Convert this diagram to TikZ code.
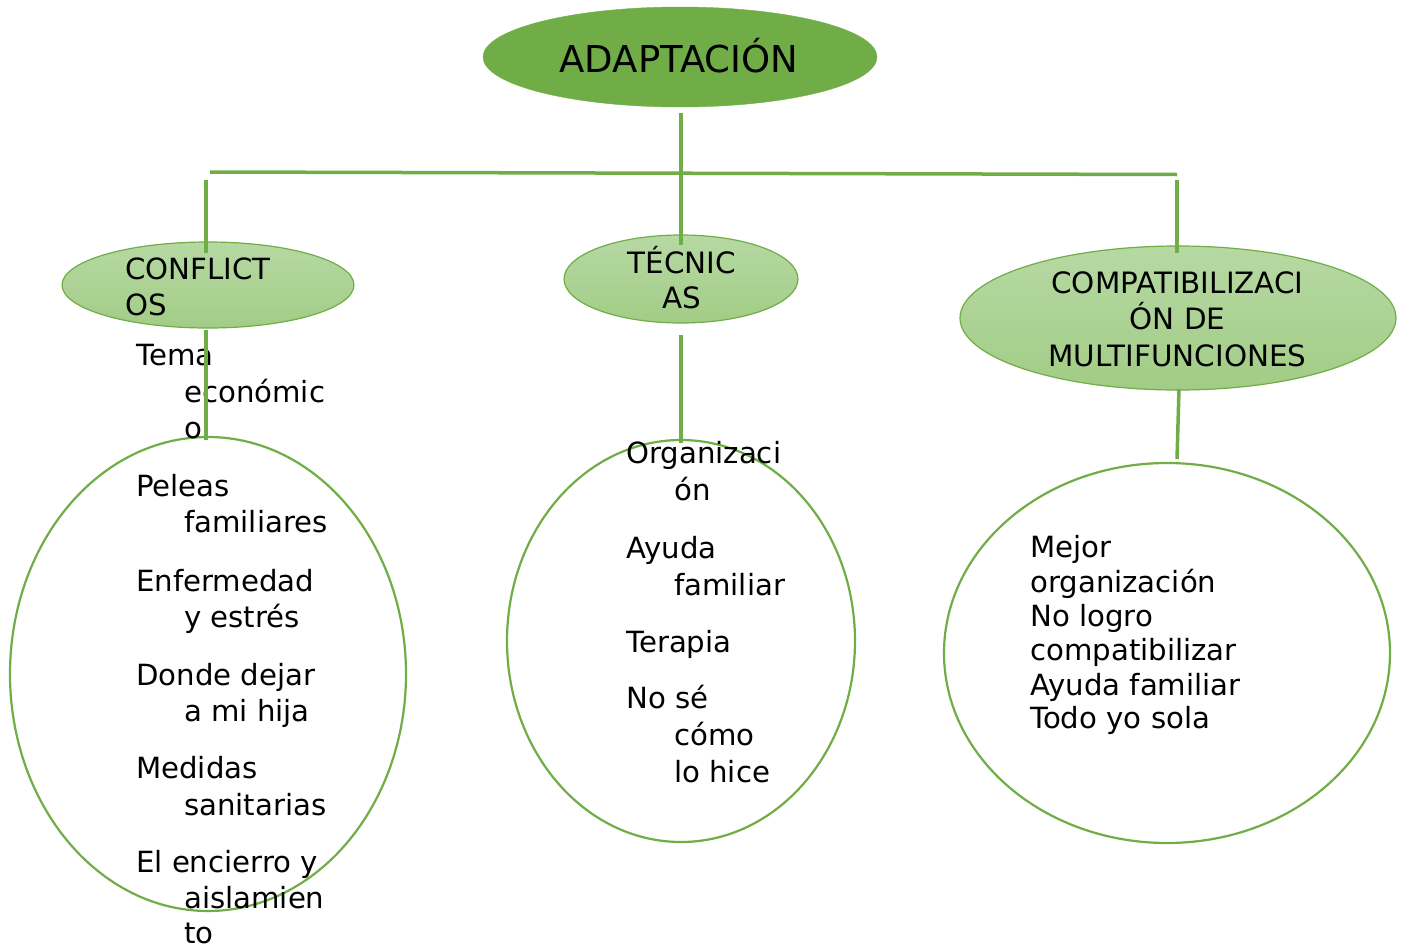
\documentclass[tikz,border=0pt]{standalone}
\usepackage{fontspec}
\setmainfont{DejaVu Sans}
\usetikzlibrary{shapes.geometric}
\definecolor{gr}{HTML}{70AD47}
\definecolor{lgtop}{HTML}{B6D9A3}
\definecolor{lgbot}{HTML}{A2CC86}
\tikzset{
  conn/.style={draw=gr, line width=3.5pt},
  big/.style={ellipse, draw=gr, line width=2.2pt, fill=white, inner sep=0pt},
  sub/.style={ellipse, draw=gr, line width=1.2pt, top color=lgtop, bottom color=lgbot, inner sep=0pt},
  txt/.style={inner sep=0pt, anchor=base west, font=\fontsize{29.2}{34}\selectfont},
  ctxt/.style={inner sep=0pt, anchor=base, font=\fontsize{29.4}{34}\selectfont}
}
\begin{document}
\begin{tikzpicture}[x=1pt,y=-1pt]
\useasboundingbox (0,0) rectangle (1401,948);
% main
\node[ellipse, fill=gr, draw=gr, minimum width=394pt, minimum height=100pt, inner sep=0pt] (main) at (680,57) {};
\node[inner sep=0pt, anchor=base, font=\fontsize{37}{44}\selectfont] (maintxt) at (679,72) {ADAPTACIÓN};
% second level
\node[sub, minimum width=292pt, minimum height=86pt] (conf) at (208,285) {};
\node[sub, minimum width=234pt, minimum height=88pt] (tec) at (681,279) {};
\node[sub, minimum width=436pt, minimum height=144pt] (comp) at (1178,318) {};
\node[txt] (conf1) at (125,279) {CONFLICT};
\node[txt] (conf2) at (125,315) {OS};
\node[ctxt] (tec1) at (682,273) {TÉCNIC};
\node[ctxt] (tec2) at (682,308) {AS};
\node[ctxt] (comp1) at (1177.5,293) {COMPATIBILIZACI};
\node[ctxt] (comp2) at (1177.5,329) {ÓN DE};
\node[ctxt] (comp3) at (1177.5,366) {MULTIFUNCIONES};
% third level
\node[big, minimum width=396pt, minimum height=474pt] (e1) at (208,674) {};
\node[big, minimum width=348pt, minimum height=402pt] (e2) at (681,641) {};
\node[big, minimum width=446pt, minimum height=380pt] (e3) at (1167,653) {};
% left list
\node[txt] (a1) at (136,365) {Tema};
\node[txt] (a2) at (184,402) {económic};
\node[txt] (a3) at (184,438) {o};
\node[txt] (a4) at (136,496) {Peleas};
\node[txt] (a5) at (184,532) {familiares};
\node[txt] (a6) at (136,591) {Enfermedad};
\node[txt] (a7) at (184,627) {y estrés};
\node[txt] (a8) at (136,685) {Donde dejar};
\node[txt] (a9) at (184,721) {a mi hija};
\node[txt] (a10) at (136,778) {Medidas};
\node[txt] (a11) at (184,815) {sanitarias};
\node[txt] (a12) at (136,872) {El encierro y};
\node[txt] (a13) at (184,908) {aislamien};
\node[txt] (a14) at (184,943) {to};
% middle list
\node[txt] (b1) at (626,463) {Organizaci};
\node[txt] (b2) at (674,500) {ón};
\node[txt] (b3) at (626,558) {Ayuda};
\node[txt] (b4) at (674,595) {familiar};
\node[txt] (b5) at (626,652) {Terapia};
\node[txt] (b6) at (626,708) {No sé};
\node[txt] (b7) at (674,745) {cómo};
\node[txt] (b8) at (674,782) {lo hice};
% right list
\node[txt] (c1) at (1030,557) {Mejor};
\node[txt] (c2) at (1030,592) {organización};
\node[txt] (c3) at (1030,626) {No logro};
\node[txt] (c4) at (1030,660) {compatibilizar};
\node[txt] (c5) at (1030,695) {Ayuda familiar};
\node[txt] (c6) at (1030,728) {Todo yo sola};
% connector end points
\coordinate (mb) at (681,113);
\coordinate (mt) at (681,245);
\coordinate (hl) at (210,172);
\coordinate (hr) at (1177,174.5);
\coordinate (lt) at (206,180);
\coordinate (lb) at (206,253);
\coordinate (rt) at (1177,180);
\coordinate (rb) at (1177,253);
\coordinate (c1t) at (206,330);
\coordinate (c1b) at (206,440);
\coordinate (c2t) at (681,335);
\coordinate (c2b) at (681,443);
\coordinate (c3t) at (1179,389);
\coordinate (c3b) at (1177,459);
% connectors
\draw[conn] (hl) -- (hr);
\draw[conn] (mb) -- (mt);
\draw[conn] (lt) -- (lb);
\draw[conn] (rt) -- (rb);
\draw[conn] (c1t) -- (c1b);
\draw[conn] (c2t) -- (c2b);
\draw[conn] (c3t) -- (c3b);
\end{tikzpicture}
\end{document}
